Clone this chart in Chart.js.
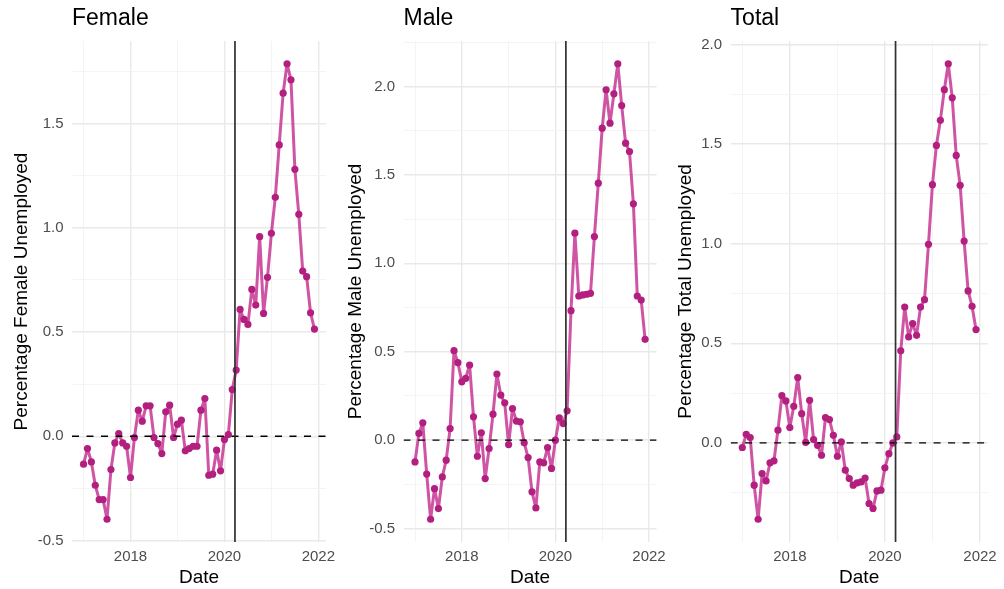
<!DOCTYPE html>
<html>
<head>
<meta charset="utf-8">
<script src="https://cdn.jsdelivr.net/npm/chart.js@4/dist/chart.umd.min.js"></script>
<style>
    html, body { margin: 0; padding: 0; background: #fff; }
    .panel { position: absolute; top: 0; height: 589px; }
</style>
</head>
<body>
<div class="panel" style="left:0;width:335px"><canvas id="female"></canvas></div>
<div class="panel" style="left:335px;width:334px"><canvas id="male"></canvas></div>
<div class="panel" style="left:669px;width:335px"><canvas id="total"></canvas></div>
<script>
// monthly series, Jan 2017 .. Dec 2021
const startYear = 2017;
const monthCount = 60;
const lockdownDate = '2020-03-23';

const femaleVals = [-0.134, -0.059, -0.123, -0.235, -0.304, -0.304, -0.398, -0.16, -0.032, 0.013,
    -0.032, -0.048, -0.198, -0.006, 0.125, 0.072, 0.146, 0.146, -0.006, -0.035,
    -0.083, 0.117, 0.149, -0.006, 0.058, 0.077, -0.07, -0.059, -0.048, -0.048,
    0.125, 0.181, -0.187, -0.182, -0.067, -0.166, -0.016, 0.008, 0.224, 0.317,
    0.608, 0.56, 0.536, 0.704, 0.629, 0.957, 0.589, 0.762, 0.973, 1.146,
    1.397, 1.645, 1.786, 1.709, 1.28, 1.064, 0.792, 0.765, 0.592, 0.514];

const maleVals = [-0.123, 0.038, 0.098, -0.192, -0.447, -0.274, -0.387, -0.208, -0.113, 0.066,
    0.506, 0.438, 0.33, 0.349, 0.425, 0.132, -0.091, 0.042, -0.217, -0.047,
    0.147, 0.374, 0.255, 0.211, -0.025, 0.179, 0.108, 0.104, -0.015, -0.098,
    -0.292, -0.383, -0.123, -0.128, -0.042, -0.16, 0.0, 0.126, 0.094, 0.166,
    0.732, 1.17, 0.815, 0.821, 0.825, 0.83, 1.151, 1.453, 1.764, 1.981,
    1.792, 1.958, 2.128, 1.892, 1.679, 1.632, 1.336, 0.815, 0.792, 0.57];

const totalVals = [-0.023, 0.043, 0.027, -0.212, -0.383, -0.154, -0.191, -0.1, -0.09, 0.064,
    0.237, 0.211, 0.077, 0.184, 0.328, 0.147, 0.003, 0.214, 0.017, -0.012,
    -0.062, 0.127, 0.117, 0.038, -0.067, 0.005, -0.137, -0.179, -0.212, -0.201,
    -0.196, -0.176, -0.304, -0.329, -0.241, -0.237, -0.125, -0.054, 0.0, 0.03,
    0.462, 0.682, 0.532, 0.599, 0.54, 0.682, 0.719, 0.997, 1.296, 1.493,
    1.619, 1.773, 1.903, 1.732, 1.443, 1.293, 1.013, 0.763, 0.686, 0.569];

const FONT = "'Liberation Sans', Arial, sans-serif";

function toYear(str) {
    const d = new Date(str + 'T00:00:00Z');
    const y = d.getUTCFullYear();
    const start = Date.UTC(y, 0, 1), end = Date.UTC(y + 1, 0, 1);
    return y + (d - start) / (end - start);
}

const months = [];
for (let i = 0; i < monthCount; i++) months.push(startYear + i / 12);

// ggplot-style 5% expansion
function expand(lo, hi) {
    const r = hi - lo;
    return [lo - r * 0.05, hi + r * 0.05];
}

const [xMin, xMax] = expand(months[0], months[months.length - 1]);
const vline = toYear(lockdownDate);

function makePanel(id, title, yTitle, values, lay) {
    const [yMin, yMax] = expand(Math.min(...values), Math.max(...values));
    const isMajor = v => Math.abs(v * 2 - Math.round(v * 2)) < 1e-6;
    new Chart(document.getElementById(id), {
        type: 'line',
        data: {
            datasets: [
                {
                    data: [{ x: vline, y: yMin }, { x: vline, y: yMax }],
                    borderColor: '#303030', borderWidth: 1.7, pointRadius: 0
                },
                {
                    data: [{ x: xMin, y: 0 }, { x: xMax, y: 0 }],
                    borderColor: '#000', borderWidth: 1.3, borderDash: [7, 7.5], pointRadius: 0
                },
                {
                    data: months.map((m, i) => ({ x: m, y: values[i] })),
                    borderColor: 'rgba(192, 30, 135, 0.76)',
                    borderWidth: 3,
                    borderJoinStyle: 'round',
                    borderCapStyle: 'round',
                    pointRadius: 3.6,
                    pointBackgroundColor: '#b31f7e',
                    pointBorderWidth: 0,
                    tension: 0
                }
            ]
        },
        options: {
            responsive: true, maintainAspectRatio: false, animation: false,
            layout: { padding: { left: 0, right: lay.padRight, top: 0, bottom: 0 } },
            plugins: {
                legend: { display: false },
                tooltip: { enabled: false },
                title: {
                    display: true, text: title, align: 'start', fullSize: false,
                    color: '#000', font: { family: FONT, size: 23, weight: 'normal' },
                    padding: { top: 5, bottom: 8.4 }
                }
            },
            scales: {
                x: {
                    type: 'linear', min: xMin, max: xMax,
                    afterBuildTicks: s => { s.ticks = [2017, 2018, 2019, 2020, 2021, 2022].map(v => ({ value: v })); },
                    afterFit: s => { s.height = 47; s.paddingLeft = 0; s.paddingRight = 0; },
                    border: { display: false },
                    grid: {
                        drawTicks: false,
                        color: c => c.tick && c.tick.value % 2 === 0 ? '#e9e9e9' : '#f1f1f1',
                        lineWidth: c => c.tick && c.tick.value % 2 === 0 ? 1.4 : 0.8
                    },
                    ticks: {
                        autoSkip: false, maxRotation: 0, padding: 6, color: '#4d4d4d',
                        font: { family: FONT, size: 15 },
                        callback: v => v % 2 === 0 ? String(v) : ''
                    },
                    title: {
                        display: true, text: 'Date', color: '#000',
                        font: { family: FONT, size: 19 }, padding: { top: 0, bottom: 0 }
                    }
                },
                y: {
                    min: yMin, max: yMax,
                    afterBuildTicks: s => {
                        const t = [];
                        for (let v = Math.ceil(yMin * 4) / 4; v <= yMax + 1e-9; v += 0.25) t.push({ value: Math.round(v * 100) / 100 });
                        s.ticks = t;
                    },
                    afterFit: s => { s.width = lay.axisWidth; s.paddingTop = 0; s.paddingBottom = 0; },
                    border: { display: false },
                    grid: {
                        drawTicks: false,
                        color: c => c.tick && isMajor(c.tick.value) ? '#e9e9e9' : '#f1f1f1',
                        lineWidth: c => c.tick && isMajor(c.tick.value) ? 1.4 : 0.8
                    },
                    ticks: {
                        autoSkip: false, padding: 8.5, color: '#4d4d4d',
                        font: { family: FONT, size: 15 },
                        callback: v => isMajor(v) ? v.toFixed(1) : ''
                    },
                    title: {
                        display: true, text: yTitle, color: '#000',
                        font: { family: FONT, size: 19 }, padding: { top: lay.titlePad, bottom: 0 }
                    }
                }
            }
        }
    });
}

makePanel('female', 'Female', 'Percentage Female Unemployed', femaleVals, { axisWidth: 72, titlePad: 10.5, padRight: 9 });
makePanel('male', 'Male', 'Percentage Male Unemployed', maleVals, { axisWidth: 68.5, titlePad: 9.5, padRight: 12.4 });
makePanel('total', 'Total', 'Percentage Total Unemployed', totalVals, { axisWidth: 61.6, titlePad: 5.5, padRight: 16.3 });
</script>
</body>
</html>
